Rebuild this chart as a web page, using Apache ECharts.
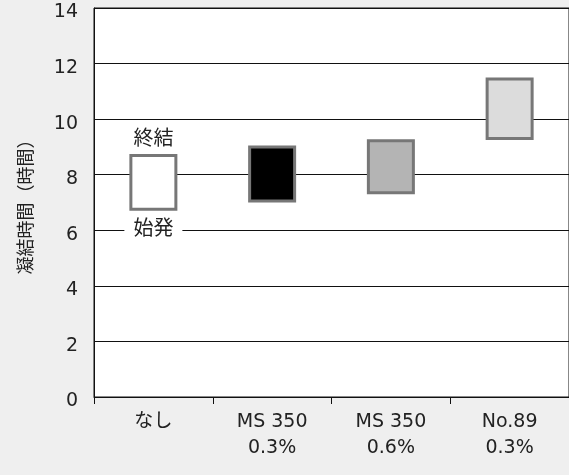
<!DOCTYPE html>
<html>
<head>
<meta charset="utf-8">
<script src="https://cdn.jsdelivr.net/npm/echarts@6/dist/echarts.min.js"></script>
<style>
html,body{margin:0;padding:0;background:#efefef;}
#main{width:569px;height:475px;}
</style>
</head>
<body>
<div id="main"></div>
<script>
const categories = ['なし', 'MS 350\n0.3%', 'MS 350\n0.6%', 'No.89\n0.3%'];
const startTimes = [6.7, 7.0, 7.3, 9.25];
const endTimes = [8.75, 9.05, 9.28, 11.5];
const barColors = ['#ffffff', '#000000', '#b4b4b4', '#dcdcdc'];
const yAxisName = '凝結時間（時間）';
const endLabel = '終結';
const startLabel = '始発';

const FONT = "'DejaVu Sans', 'Noto Sans CJK JP', sans-serif";
const JFONT = "'Noto Sans CJK JP', sans-serif";

const chart = echarts.init(document.getElementById('main'));
chart.setOption({
  backgroundColor: '#efefef',
  animation: false,
  grid: {left: 94, right: -2, top: 8, bottom: 78, show: true, backgroundColor: '#ffffff', borderColor: '#111', borderWidth: 1},
  xAxis: {
    type: 'category',
    data: categories,
    boundaryGap: true,
    axisLine: {lineStyle: {color: '#111', width: 1}},
    axisTick: {show: true, length: 7, lineStyle: {color: '#111'}},
    axisLabel: {fontFamily: FONT, fontSize: 19, color: '#222', lineHeight: 26, margin: 12}
  },
  yAxis: {
    type: 'value',
    min: 0, max: 14, interval: 2,
    name: yAxisName,
    nameLocation: 'middle',
    nameGap: 60,
    nameRotate: 90,
    nameTextStyle: {fontFamily: JFONT, fontSize: 18, color: '#222'},
    axisLine: {show: true, lineStyle: {color: '#111', width: 1}},
    axisTick: {show: false},
    axisLabel: {
      fontFamily: FONT, fontSize: 19, color: '#222', margin: 16,
      formatter: '{v|{value}}',
      rich: {v: {fontFamily: FONT, fontSize: 19, color: '#222', padding: [9, 0, 0, 0]}}
    },
    splitLine: {lineStyle: {color: '#111', width: 1}}
  },
  series: [
    {
      type: 'bar',
      stack: 't',
      barWidth: 48,
      silent: true,
      itemStyle: {color: 'rgba(0,0,0,0)'},
      data: startTimes.map((v, i) => i === 0 ? {
        value: v,
        label: {
          show: true, formatter: startLabel, position: ['50%', 17],
          align: 'center', verticalAlign: 'middle',
          fontFamily: JFONT, fontSize: 20, color: '#222',
          backgroundColor: '#ffffff', padding: [2, 9]
        }
      } : v)
    },
    {
      type: 'bar',
      stack: 't',
      barWidth: 48,
      data: endTimes.map((v, i) => {
        const d = {value: +(v - startTimes[i]).toFixed(3), itemStyle: {color: barColors[i], borderColor: '#777', borderWidth: 3}};
        if (i === 0) d.label = {show: true, formatter: endLabel, position: 'top', distance: 6, fontFamily: JFONT, fontSize: 20, color: '#222'};
        return d;
      })
    }
  ]
});
</script>
</body>
</html>
